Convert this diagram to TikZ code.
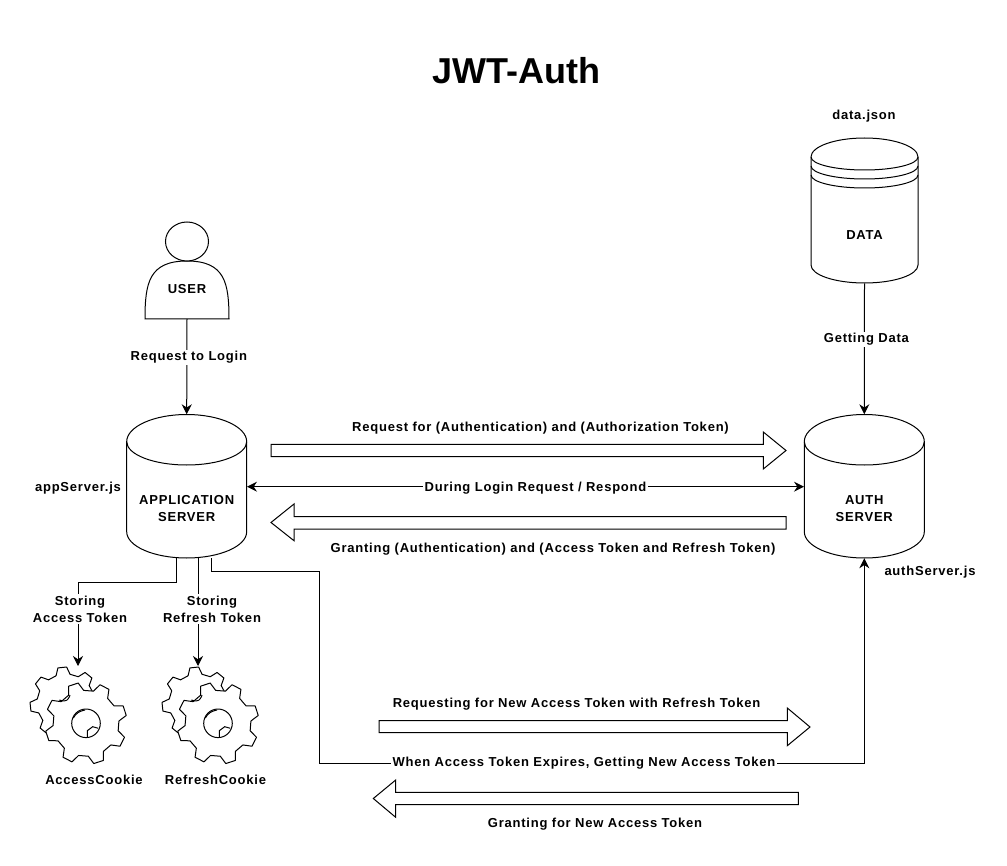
\documentclass[tikz,border=0pt]{standalone}
\usepackage{fontspec}
\setmainfont{Liberation Sans}
\usetikzlibrary{arrows.meta,calc}
\tikzset{
 x=0.75pt,y=-0.75pt,
 lbl/.style={font=\fontsize{9.75pt}{12.75pt}\selectfont\bfseries\addfontfeature{LetterSpace=6},align=center,inner sep=1pt},
 lblw/.style={lbl,fill=white},
 box/.style={draw=none,inner sep=0pt,font=\fontsize{9.75pt}{12.75pt}\selectfont\bfseries\addfontfeature{LetterSpace=6},align=center},
 ln/.style={draw=black,line width=0.75pt},
 conn/.style={ln,line join=miter,-{Stealth[length=7.5pt,width=7.5pt]}},
 both/.style={ln,{Stealth[length=7.5pt,width=7.5pt]}-{Stealth[length=7.5pt,width=7.5pt]}},
 blockarrow/.style={ln,fill=white,line join=miter},
}
% half-ellipse from (x1,ya) through (mid,yb) to (x2,ya)
\newcommand{\halfell}[4]{(#1,#3) .. controls (#1,{#3+0.552*(#4-#3)}) and ({(#1+#2)/2-0.276*(#2-#1)},#4) .. ({(#1+#2)/2},#4) .. controls ({(#1+#2)/2+0.276*(#2-#1)},#4) and (#2,{#3+0.552*(#4-#3)}) .. (#2,#3)}
% x1 x2 top side-top side-bottom bottom inner-bottom
\newcommand{\cyl}[7]{%
 \draw[ln,fill=white] \halfell{#1}{#2}{#4}{#3} -- (#2,#5) .. controls (#2,{#5+0.552*(#6-#5)}) and ({(#1+#2)/2+0.276*(#2-#1)},#6) .. ({(#1+#2)/2},#6) .. controls ({(#1+#2)/2-0.276*(#2-#1)},#6) and (#1,{#5+0.552*(#6-#5)}) .. (#1,#5) -- cycle;
 \draw[ln] \halfell{#1}{#2}{#4}{#7};
}
% cx cy Ro Ri rot
\newcommand{\gear}[5]{%
 \draw[ln,fill=white,line join=round]
  ({#1+#3*cos(#5-7)},{#2-#3*sin(#5-7)})
  \foreach \k in {0,...,7}{
   -- ({#1+#3*cos(#5+45*\k+7)},{#2-#3*sin(#5+45*\k+7)})
   -- ({#1+#4*cos(#5+45*\k+14)},{#2-#4*sin(#5+45*\k+14)})
   -- ({#1+#4*cos(#5+45*\k+31)},{#2-#4*sin(#5+45*\k+31)})
   -- ({#1+#3*cos(#5+45*\k+38)},{#2-#3*sin(#5+45*\k+38)})
  } -- cycle;
}
\newcommand{\cookie}[1]{%
 \begin{scope}[shift={(#1,0)}]
  \gear{66}{703}{36}{29}{96}
  \gear{86}{723.3}{41}{33}{108}
  \draw[ln,fill=white] (86,723.3) circle[radius=14.3];
  \draw[ln] (73.3,718) .. controls (76,713) and (80,711) .. (85,710);
  \draw[ln] (87.3,737.6) -- (87.3,730.7) -- (92.7,726.7) -- (98.3,728.3);
  \draw[ln] (59.3,700) .. controls (63,701.5) and (67,701) .. (68,699) .. controls (69,697.5) and (70,696) .. (70,695);
 \end{scope}
}
\begin{document}
\begin{tikzpicture}
\useasboundingbox (0,0) rectangle (1007,866);
\fill[white] (0,0) rectangle (1007,866);

\node[font=\fontsize{27pt}{30pt}\selectfont\bfseries] (title) at (516,71) {JWT-Auth};

% user
\draw[ln,fill=white] (187,319) -- (145,319) .. controls (145,283) and (149,261) .. (187,261)
 .. controls (225,261) and (229,283) .. (229,319) -- cycle;
\draw[ln,fill=white] (187,241.5) ellipse[x radius=21.5,y radius=19.5];
\node[box] (user) at (187,289) {USER};
\coordinate (userb) at (187,319);

% cylinders
\node[box,minimum width=90pt,minimum height=107.6pt] (app) at (186.7,486.3) {};
\node[box,minimum width=90pt,minimum height=107.6pt] (auth) at (864.3,486.3) {};
\node[box,minimum width=80.25pt,minimum height=108.75pt] (data) at (864.5,210.5) {};
\cyl{126.7}{246.7}{414.5}{441.7}{531.7}{558}{465}
\cyl{804.3}{924.3}{414.5}{441.7}{531.7}{558}{465}
\cyl{811}{918}{138}{157}{265}{283}{170}
\draw[ln] \halfell{811}{918}{166}{179};
\draw[ln] \halfell{811}{918}{175}{188};
\node[box] (applbl) at (186.7,509) {APPLICATION\\SERVER};
\node[box] (authlbl) at (864.3,509) {AUTH\\SERVER};
\node[box] (datalbl) at (864.5,235) {DATA};

% connectors
\draw[conn] (userb) -- (app.north) node[lblw,pos=.4,xshift=1.5pt] {Request to Login};
\draw[conn] (data.south) -- (auth.north) node[lblw,pos=.43,xshift=1.5pt] {Getting Data};
\coordinate (midy) at (0,486.7);
\draw[both] (app.east|-midy) -- (auth.west|-midy) node[midway,lblw,xshift=7.5pt,yshift=-0.75pt] {During Login Request / Respond};

\coordinate (g1) at (78,666); \coordinate (g2) at (198,666);
\coordinate (s1) at (176,558); \coordinate (s2) at (198,558); \coordinate (s3) at (211,558);
\draw[conn] (s1) -- (176,582) -- (78,582) -- (g1);
\node[lblw] (st1) at (80,609) {Storing\\Access Token};
\draw[conn] (s2) -- (g2);
\node[lblw] (st2) at (212,609) {Storing\\Refresh Token};

\draw[conn] (s3) -- (211,571) -- (319,571) -- (319,763) -- (864.3,763) -- (auth.south);
\node[lblw] (exp) at (584,763) {When Access Token Expires, Getting New Access Token};

% block arrows
\draw[blockarrow] (271,444.3) -- (763.3,444.3) -- (763.3,432) -- (786,450.5) -- (763.3,469) -- (763.3,456.7) -- (271,456.7) -- cycle;
\draw[blockarrow] (786,516.7) -- (294,516.7) -- (294,504) -- (271,522.5) -- (294,540.7) -- (294,529) -- (786,529) -- cycle;
\draw[blockarrow] (379,720.7) -- (787.3,720.7) -- (787.3,708) -- (810,727) -- (787.3,745.7) -- (787.3,732.7) -- (379,732.7) -- cycle;
\draw[blockarrow] (798.3,792.3) -- (395.7,792.3) -- (395.7,780) -- (373.3,798.5) -- (395.7,817.3) -- (395.7,804.7) -- (798.3,804.7) -- cycle;

\node[lbl] (l1) at (540.5,428) {Request for (Authentication) and (Authorization Token)};
\node[lbl] (l2) at (553,549) {Granting (Authentication) and (Access Token and Refresh Token)};
\node[lbl] (l3) at (576.5,704) {Requesting for New Access Token with Refresh Token};
\node[lbl] (l4) at (595,824) {Granting for New Access Token};
\node[lbl] (l5) at (78,488) {appServer.js};
\node[lbl] (l6) at (930,572) {authServer.js};
\node[lbl] (l7) at (864,116) {data.json};

\cookie{0}\cookie{132}
\node[lbl] (c1) at (94,780) {AccessCookie};
\node[lbl] (c2) at (215.5,780) {RefreshCookie};
\end{tikzpicture}
\end{document}
